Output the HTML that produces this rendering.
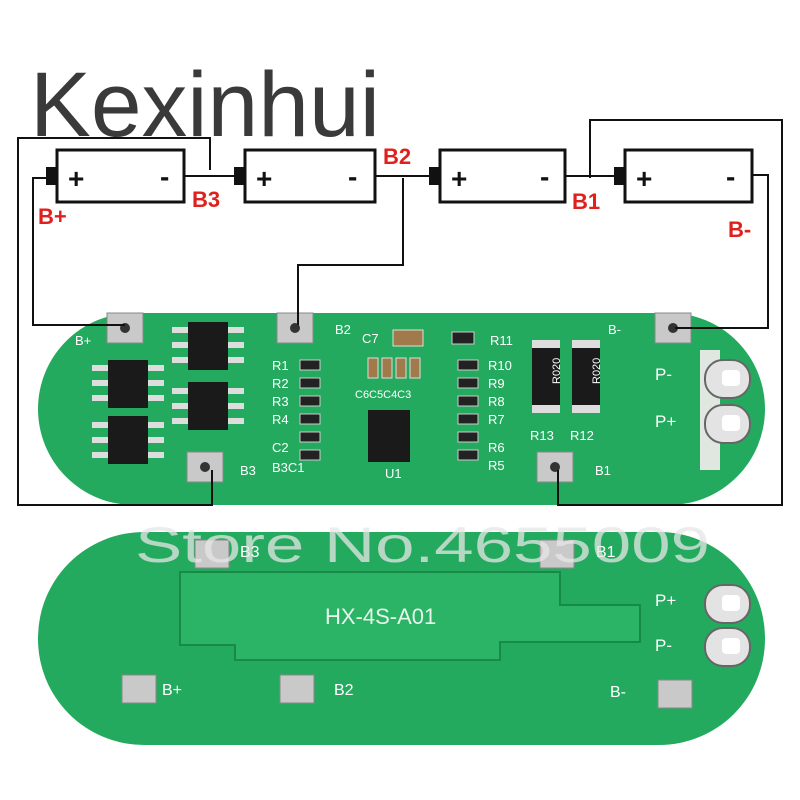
<!DOCTYPE html>
<html><head><meta charset="utf-8"><style>
html,body{margin:0;padding:0;background:#fff;width:800px;height:800px;overflow:hidden}
svg{display:block}
text{font-family:"Liberation Sans",sans-serif}
</style></head><body>
<svg width="800" height="800" viewBox="0 0 800 800">
<!-- logo -->
<text x="30" y="136" font-size="92" fill="#3a3a3a" textLength="350" lengthAdjust="spacingAndGlyphs">Kexinhui</text>

<!-- PCB top -->
<rect x="38" y="313" width="727" height="192" rx="96" fill="#24aa5e"/>
<rect x="700" y="350" width="20" height="120" fill="#dfe7e0"/>
<!-- PCB bottom -->
<rect x="38" y="532" width="727" height="213" rx="106" fill="#24aa5e"/>
<path d="M180 572 H560 V605 H640 V642 H500 V660 H235 V645 H180 Z" fill="#2bb465" stroke="#178a48" stroke-width="2"/>
<text x="325" y="624" font-size="22" fill="#e8f5ec" font-family="Liberation Mono">HX-4S-A01</text>

<!-- pads -->
<g fill="#c9c9c9" stroke="#888">
<rect x="107" y="313" width="36" height="30"/>
<rect x="277" y="313" width="36" height="30"/>
<rect x="655" y="313" width="36" height="30"/>
<rect x="187" y="452" width="36" height="30"/>
<rect x="537" y="452" width="36" height="30"/>
<rect x="195" y="540" width="34" height="28"/>
<rect x="540" y="540" width="34" height="28"/>
<rect x="122" y="675" width="34" height="28"/>
<rect x="280" y="675" width="34" height="28"/>
<rect x="658" y="680" width="34" height="28"/>
</g>
<g fill="#333"><circle cx="125" cy="328" r="5"/><circle cx="295" cy="328" r="5"/><circle cx="673" cy="328" r="5"/><circle cx="205" cy="467" r="5"/><circle cx="555" cy="467" r="5"/></g>
<g fill="#e3e3e3" stroke="#666" stroke-width="2">
<rect x="705" y="360" width="45" height="38" rx="18"/><rect x="705" y="405" width="45" height="38" rx="18"/>
<rect x="705" y="585" width="45" height="38" rx="18"/><rect x="705" y="628" width="45" height="38" rx="18"/>
</g>
<g fill="#fff"><rect x="722" y="370" width="18" height="16" rx="4"/><rect x="722" y="415" width="18" height="16" rx="4"/><rect x="722" y="595" width="18" height="16" rx="4"/><rect x="722" y="638" width="18" height="16" rx="4"/></g>

<g fill="#1a1a1a">
<rect x="108" y="360" width="40" height="48"/><rect x="108" y="416" width="40" height="48"/>
<rect x="188" y="322" width="40" height="48"/><rect x="188" y="382" width="40" height="48"/>
<rect x="368" y="410" width="42" height="52"/>
<rect x="532" y="345" width="28" height="62"/><rect x="572" y="345" width="28" height="62"/>
</g>
<g fill="#ddd">
<rect x="92" y="365" width="16" height="6"/><rect x="92" y="380" width="16" height="6"/><rect x="92" y="395" width="16" height="6"/>
<rect x="148" y="365" width="16" height="6"/><rect x="148" y="380" width="16" height="6"/><rect x="148" y="395" width="16" height="6"/>
<rect x="92" y="422" width="16" height="6"/><rect x="92" y="437" width="16" height="6"/><rect x="92" y="452" width="16" height="6"/>
<rect x="148" y="422" width="16" height="6"/><rect x="148" y="437" width="16" height="6"/><rect x="148" y="452" width="16" height="6"/>
<rect x="172" y="327" width="16" height="6"/><rect x="172" y="342" width="16" height="6"/><rect x="172" y="357" width="16" height="6"/>
<rect x="228" y="327" width="16" height="6"/><rect x="228" y="342" width="16" height="6"/><rect x="228" y="357" width="16" height="6"/>
<rect x="172" y="388" width="16" height="6"/><rect x="172" y="403" width="16" height="6"/><rect x="172" y="418" width="16" height="6"/>
<rect x="228" y="388" width="16" height="6"/><rect x="228" y="403" width="16" height="6"/><rect x="228" y="418" width="16" height="6"/>
<rect x="532" y="340" width="28" height="8"/><rect x="532" y="405" width="28" height="8"/>
<rect x="572" y="340" width="28" height="8"/><rect x="572" y="405" width="28" height="8"/>
</g>
<text x="538" y="390" font-size="11" fill="#fff" transform="rotate(-90 546 376)">R020</text>
<text x="578" y="390" font-size="11" fill="#fff" transform="rotate(-90 586 376)">R020</text>
<g fill="#222" stroke="#ccc">
<rect x="300" y="360" width="20" height="10"/><rect x="300" y="378" width="20" height="10"/><rect x="300" y="396" width="20" height="10"/><rect x="300" y="414" width="20" height="10"/><rect x="300" y="432" width="20" height="10"/><rect x="300" y="450" width="20" height="10"/>
<rect x="458" y="360" width="20" height="10"/><rect x="458" y="378" width="20" height="10"/><rect x="458" y="396" width="20" height="10"/><rect x="458" y="414" width="20" height="10"/><rect x="458" y="432" width="20" height="10"/><rect x="458" y="450" width="20" height="10"/>
<rect x="452" y="332" width="22" height="12"/>
</g>
<g fill="#a07a4a" stroke="#ddd"><rect x="393" y="330" width="30" height="16"/><rect x="368" y="358" width="10" height="20"/><rect x="382" y="358" width="10" height="20"/><rect x="396" y="358" width="10" height="20"/><rect x="410" y="358" width="10" height="20"/></g>
<g font-size="13" fill="#fff">
<text x="75" y="345">B+</text><text x="335" y="334">B2</text><text x="608" y="334">B-</text><text x="240" y="475">B3</text><text x="595" y="475">B1</text>
<text x="655" y="380" font-size="17">P-</text><text x="655" y="427" font-size="17">P+</text>
<text x="272" y="370">R1</text><text x="272" y="388">R2</text><text x="272" y="406">R3</text><text x="272" y="424">R4</text><text x="272" y="452">C2</text><text x="272" y="472">B3C1</text>
<text x="490" y="345">R11</text><text x="488" y="370">R10</text><text x="488" y="388">R9</text><text x="488" y="406">R8</text><text x="488" y="424">R7</text><text x="488" y="452">R6</text><text x="488" y="470">R5</text>
<text x="362" y="343">C7</text><text x="355" y="398" font-size="11">C6C5C4C3</text><text x="385" y="478">U1</text>
<text x="530" y="440">R13</text><text x="570" y="440">R12</text>
<text x="240" y="557" font-size="16">B3</text><text x="596" y="557" font-size="16">B1</text>
<text x="162" y="695" font-size="16">B+</text><text x="334" y="695" font-size="16">B2</text><text x="610" y="697" font-size="16">B-</text>
<text x="655" y="606" font-size="17">P+</text><text x="655" y="651" font-size="17">P-</text>
</g>

<text x="135" y="562" font-size="50" fill="#e6e6e6" fill-opacity="0.75" textLength="575" lengthAdjust="spacingAndGlyphs">Store No.4655009</text>

<g fill="none" stroke="#111" stroke-width="2">
<path d="M210 170 V138 H18 V505 H212 V470"/>
<path d="M48 178 H33 V325 H125"/>
<path d="M403 178 V265 H298 V325"/>
<path d="M590 178 V120 H782 V505 H558 V470"/>
<path d="M752 175 H768 V328 H675"/>
<path d="M185 176 H245 M375 176 H440 M565 176 H625"/>
</g>
<g fill="#fff" stroke="#111" stroke-width="3">
<rect x="57" y="150" width="127" height="52"/><rect x="245" y="150" width="130" height="52"/><rect x="440" y="150" width="125" height="52"/><rect x="625" y="150" width="127" height="52"/>
</g>
<g fill="#111"><rect x="46" y="167" width="11" height="18"/><rect x="234" y="167" width="11" height="18"/><rect x="429" y="167" width="11" height="18"/><rect x="614" y="167" width="11" height="18"/></g>
<g font-size="28" fill="#111" font-weight="bold">
<text x="68" y="188">+</text><text x="160" y="186">-</text>
<text x="256" y="188">+</text><text x="348" y="186">-</text>
<text x="451" y="188">+</text><text x="540" y="186">-</text>
<text x="636" y="188">+</text><text x="726" y="186">-</text>
</g>
<g font-size="22" fill="#e0201c" font-weight="bold">
<text x="38" y="224">B+</text><text x="192" y="207">B3</text><text x="383" y="164">B2</text><text x="572" y="209">B1</text><text x="728" y="237">B-</text>
</g>
</svg>
</body></html>
